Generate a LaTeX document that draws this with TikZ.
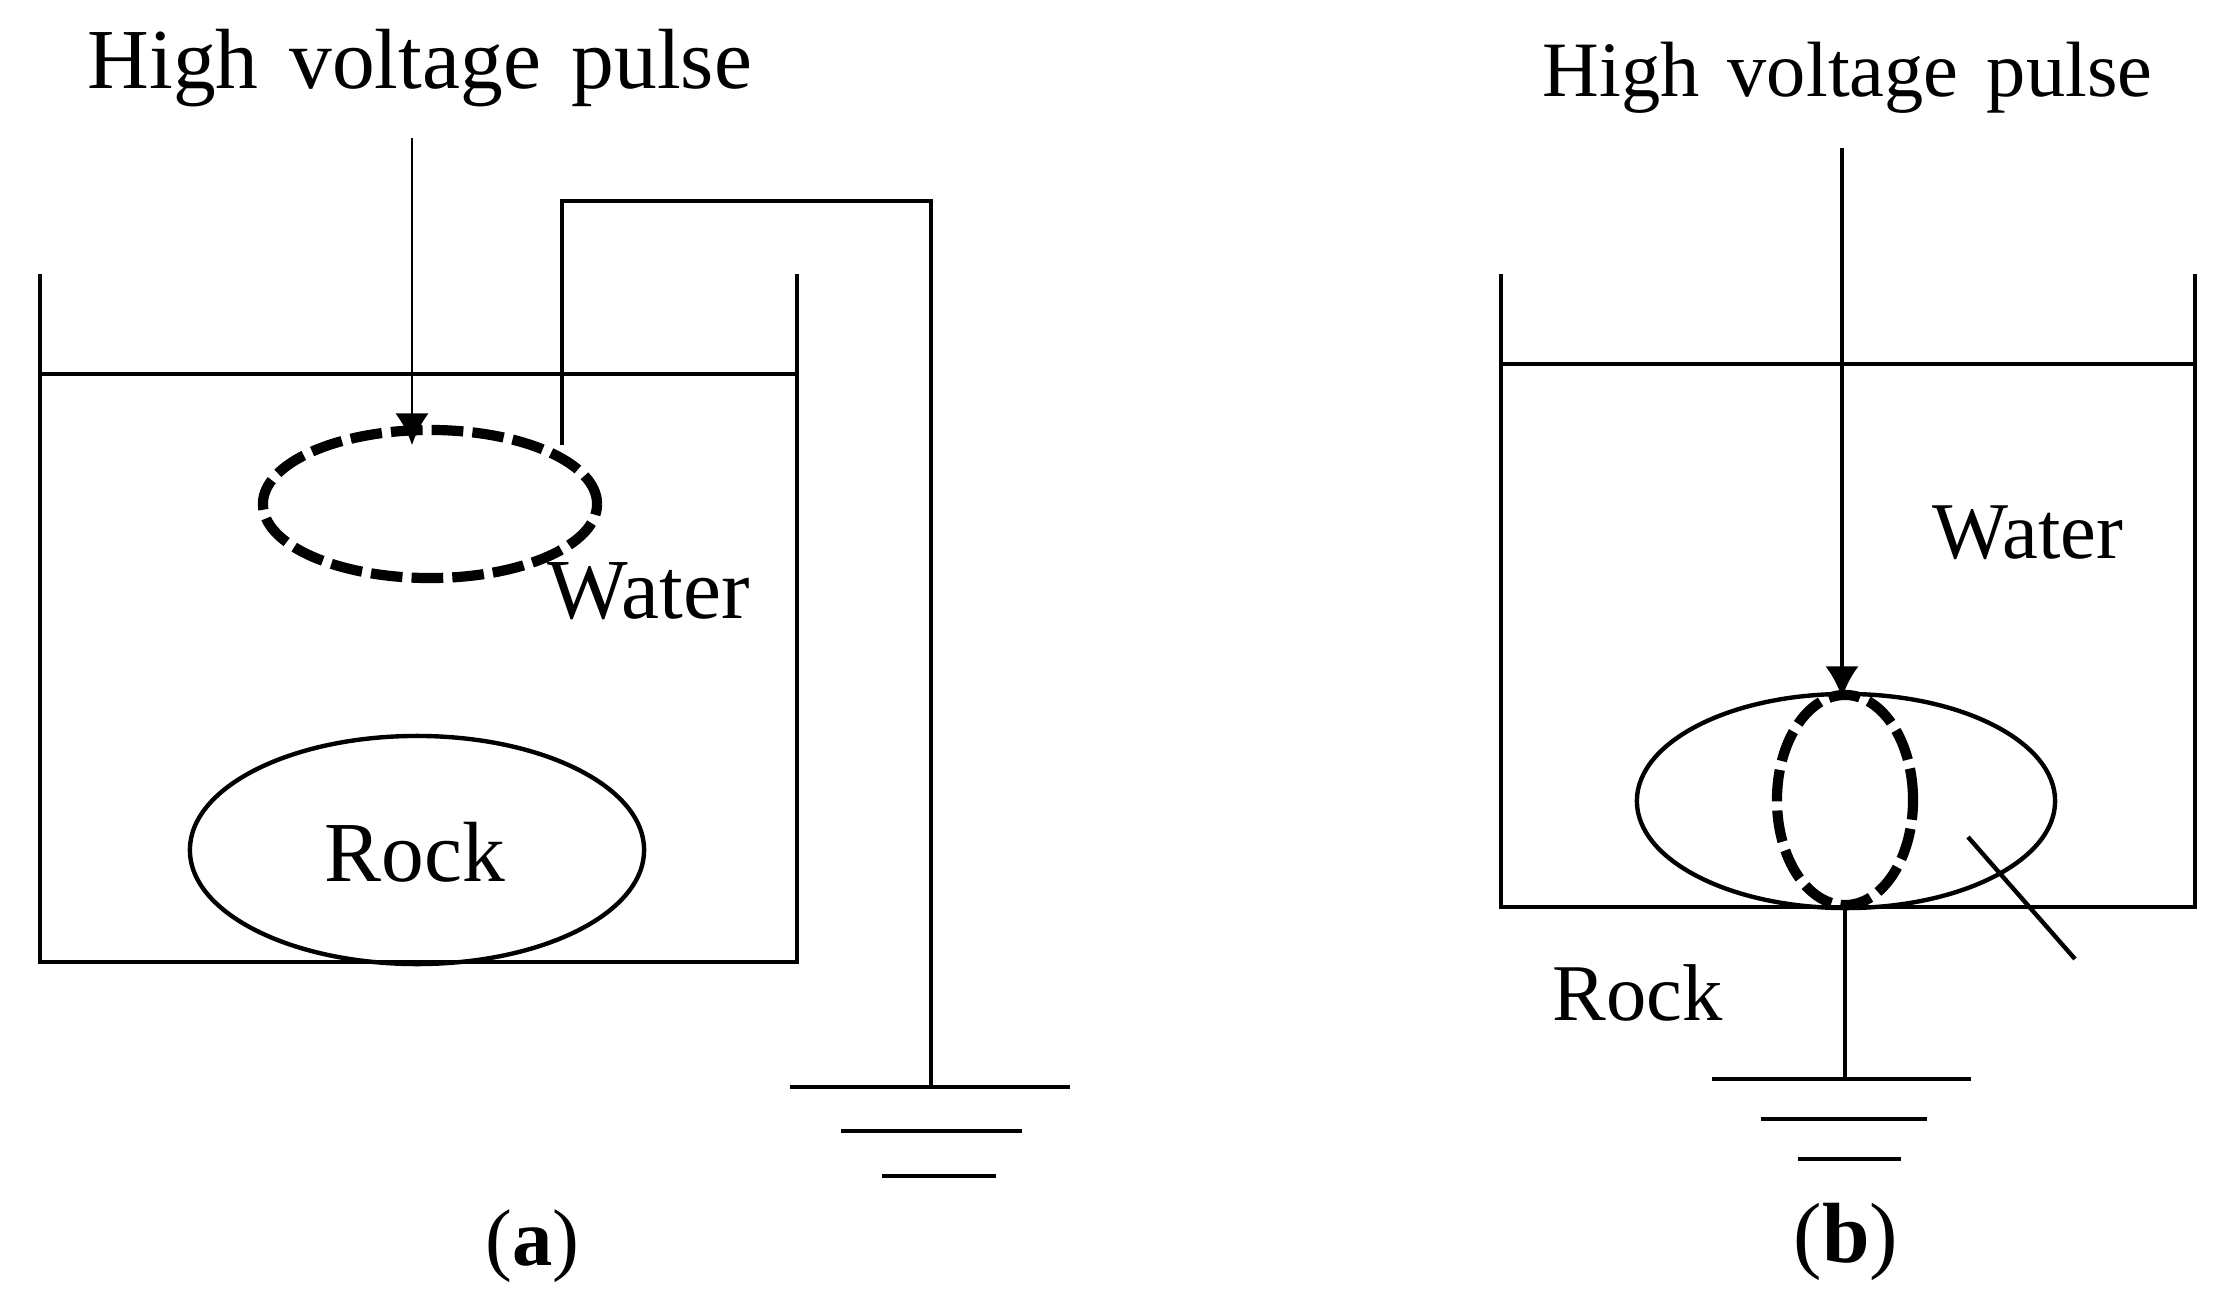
\documentclass[tikz,border=0pt]{standalone}
\usepackage{fontspec}
\setmainfont{Liberation Serif}
\usetikzlibrary{arrows.meta,shapes.geometric}
\newcommand{\wgap}{\hspace{.36em}}
\tikzset{
    big/.style={inner sep=0pt, anchor=base west, font=\fontsize{24.3}{28}\selectfont},
    small/.style={inner sep=0pt, anchor=base west, font=\fontsize{22.3}{26}\selectfont},
    midsize/.style={inner sep=0pt, anchor=base west, font=\fontsize{22.9}{26}\selectfont},
    wire/.style={line width=1.25pt},
    thinwire/.style={line width=.85pt},
    loopring/.style={ellipse, draw, inner sep=0pt, line width=2.9pt, dash pattern=on 9pt off 2.6pt},
    rock/.style={ellipse, draw, inner sep=0pt, line width=1.25pt}
}
\begin{document}
\begin{tikzpicture}[>={Latex[length=9pt,width=9.5pt]}, x=.01cm, y=-.01cm]
\useasboundingbox (0,0) rectangle (2217,1303);

% left panel
\draw[wire] (40,274)--(40,962)--(797,962)--(797,274);
\draw[wire] (40,374)--(797,374);
\node[rock, minimum width=4.54cm, minimum height=2.28cm] (rocka) at (417,850) {};
\node[loopring, minimum width=3.34cm, minimum height=1.48cm] (ringa) at (430,504) {};
\node[big] (pulsea) at (87,88) {High\wgap voltage\wgap pulse};
\node[big] (watera) at (547,618) {Water};
\node[big] (labela) at (324,881) {Rock};
\node[midsize] (capa) at (485,1265) {(\textbf{a})};

\coordinate (ina) at (412,138);
\coordinate (tipa) at (412,445);
\draw[->, thinwire] (ina)--(tipa);

\coordinate (lead) at (562,445);
\coordinate (gnda) at (931,1087);
\draw[wire] (lead)--(562,201)--(931,201)--(gnda);
\foreach \y/\l/\r in {1087/790/1070,1131/841/1022,1176/882/996}
{
    \draw[wire] (\l,\y)--(\r,\y);
}

% right panel
\draw[wire] (1501,274)--(1501,907)--(2195,907)--(2195,274);
\draw[wire] (1501,364)--(2195,364);
\node[rock, minimum width=4.18cm, minimum height=2.14cm] (rockb) at (1846,801) {};
\node[loopring, minimum width=1.36cm, minimum height=2.1cm] (ringb) at (1845,800) {};
\node[small] (pulseb) at (1542,96) {High\wgap voltage\wgap pulse};
\node[midsize] (waterb) at (1932,558) {Water};
\node[midsize] (labelb) at (1552,1020) {Rock};
\node[big] (capb) at (1793,1262) {(\textbf{b})};

\coordinate (inb) at (1842,148);
\coordinate (tipb) at (1842,698);
\draw[->, wire] (inb)--(tipb);

\coordinate (gndb) at (1845,1079);
\draw[wire] (ringb.south)--(gndb);
\foreach \y/\l/\r in {1079/1712/1971,1119/1761/1927,1159/1798/1901}
{
    \draw[wire] (\l,\y)--(\r,\y);
}

\coordinate (pa) at (1968,837);
\coordinate (pb) at (2075,959);
\draw[wire] (pa)--(pb);
\end{tikzpicture}
\end{document}
